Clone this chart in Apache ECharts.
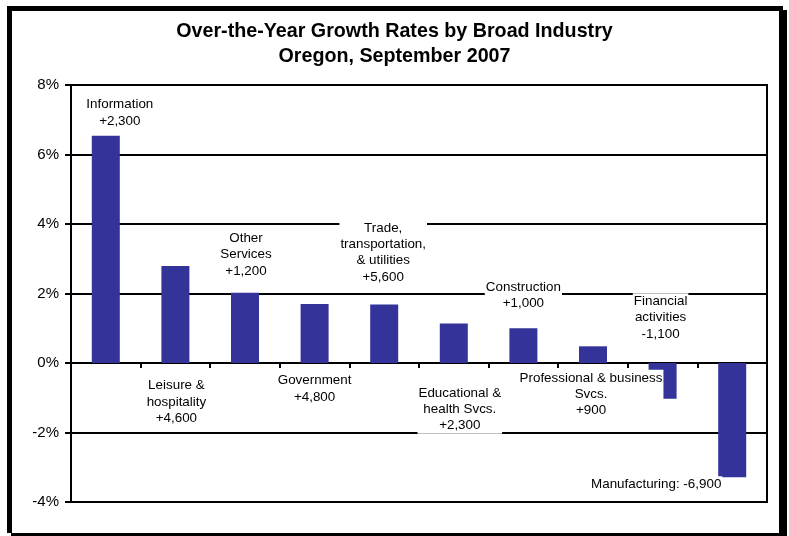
<!DOCTYPE html>
<html><head><meta charset="utf-8">
<script src="https://cdn.jsdelivr.net/npm/echarts@6/dist/echarts.min.js"></script>
<style>html,body{margin:0;padding:0;background:#fff}#c{width:789px;height:536px}</style>
</head><body><div id="c"></div>
<script>
const categories = ['Information', 'Leisure & hospitality', 'Other Services', 'Government', 'Trade, transportation, & utilities', 'Educational & health Svcs.', 'Construction', 'Professional & business Svcs.', 'Financial activities', 'Manufacturing'];
const growthRates = [6.54, 2.79, 2.02, 1.70, 1.68, 1.14, 1.00, 0.48, -1.03, -3.29];
const labelTexts = ['Information\n+2,300', 'Leisure &\nhospitality\n+4,600', 'Other\nServices\n+1,200', 'Government\n+4,800', 'Trade,\ntransportation,\n& utilities\n+5,600', 'Educational &\nhealth Svcs.\n+2,300', 'Construction\n+1,000', 'Professional & business\nSvcs.\n+900', 'Financial\nactivities\n-1,100', 'Manufacturing: -6,900'];
const yMin = -4, yMax = 8, yInterval = 2;
const titleLines = ['Over-the-Year Growth Rates by Broad Industry', 'Oregon, September 2007'];

// layout only: label offsets (px) from the end of each bar
const labelOffsets = [[14, -23], [1, 136], [1, -38], [0, 85], [-1, -52], [6, 86], [0, -33], [-2, 48], [-2, -81], [-76, 7]];

const FONT = "'Liberation Sans', Arial, Helvetica, sans-serif";
const chart = echarts.init(document.getElementById('c'));
chart.setOption({
  animation: false,
  backgroundColor: '#fff',
  graphic: [
    { type: 'rect', z: -100, shape: { x: 7, y: 6, width: 776, height: 527 }, style: { fill: '#000' }, silent: true },
    { type: 'rect', z: -100, shape: { x: 779, y: 10, width: 8, height: 526 }, style: { fill: '#000' }, silent: true },
    { type: 'rect', z: -100, shape: { x: 11, y: 533, width: 776, height: 3 }, style: { fill: '#000' }, silent: true },
    { type: 'rect', z: -99, shape: { x: 12, y: 11, width: 767, height: 522 }, style: { fill: '#fff' }, silent: true }
  ],
  title: {
    text: titleLines.join('\n'),
    left: 'center',
    top: 19,
    padding: 0,
    textStyle: { fontFamily: FONT, fontSize: 19.7, fontWeight: 'bold', color: '#000', lineHeight: 25 }
  },
  grid: { left: 71, right: 22, top: 85, bottom: 34, show: true, borderColor: '#000', borderWidth: 2, backgroundColor: 'transparent' },
  xAxis: {
    type: 'category',
    data: categories,
    axisLine: { onZero: true, lineStyle: { color: '#000', width: 2 } },
    axisTick: { show: true, interval: 0, length: 5, lineStyle: { color: '#000', width: 2 } },
    axisLabel: { show: false, interval: 0 },
    splitLine: { show: false }
  },
  yAxis: {
    type: 'value',
    min: yMin, max: yMax, interval: yInterval,
    axisLine: { show: true, lineStyle: { color: '#000', width: 2 } },
    axisTick: { show: true, length: 6, lineStyle: { color: '#000', width: 2 } },
    axisLabel: { formatter: '{value}%', fontFamily: FONT, fontSize: 15, color: '#000', margin: 12 },
    splitLine: { show: true, lineStyle: { color: '#000', width: 2 } }
  },
  series: [
    {
      type: 'bar',
      data: growthRates,
      barWidth: 28,
      itemStyle: { color: '#333399' },
      silent: true,
      z: 2
    },
    {
      type: 'scatter',
      data: growthRates.map((v, i) => ({
        value: [i, v],
        label: { formatter: labelTexts[i], offset: labelOffsets[i] }
      })),
      symbolSize: 1,
      itemStyle: { color: 'rgba(0,0,0,0)', opacity: 1 },
      silent: true,
      z: 5,
      label: {
        show: true,
        position: 'inside',
        align: 'center',
        verticalAlign: 'middle',
        fontFamily: FONT,
        fontSize: 13.4,
        lineHeight: 16.3,
        color: '#000',
        opacity: 1,
        backgroundColor: '#fff',
        padding: [0, 1]
      }
    }
  ]
});
</script></body></html>
